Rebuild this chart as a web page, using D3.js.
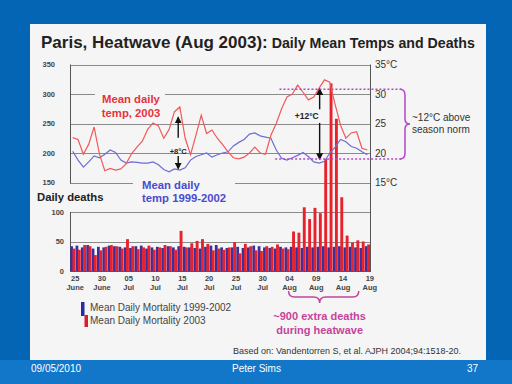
<!DOCTYPE html>
<html><head><meta charset="utf-8">
<script src="https://cdn.jsdelivr.net/npm/d3@7"></script>
<style>
body{margin:0;background:#0565b5;}
svg{display:block;font-family:"Liberation Sans",Arial,sans-serif;}
</style>
</head><body>
<svg id="c" width="512" height="384"></svg>
<script>
// ---------- data ----------
const tickIndex  = [0,5,10,15,20,25,30,35,40,45,50,55];
const tickDays   = ["25","30","05","10","15","20","25","30","04","09","14","19"];
const tickMonths = ["June","June","Jul","Jul","Jul","Jul","Jul","Jul","Aug","Aug","Aug","Aug"];
const dayCount = 56; // 25 June .. 19 Aug

const deaths9902 = [42,43,40,44,38,41,40,43,42,41, 40,39,42,43,38,40,41,39,42,40,
                    42,41,40,39,38,41,43,44,40,39, 40,41,39,40,43,42,40,39,38,41,
                    40,41,40,39,41,40,41,42,40,41, 42,40,41,40,39,42];
const deaths2003 = [38,36,44,42,27,35,41,44,42,38, 54,42,37,40,43,36,40,44,42,36,
                    68,40,47,51,54,46,35,38,36,40, 49,30,46,42,35,34,42,41,45,38,
                    37,67,65,108,88,107,98,190,318,258, 125,60,48,52,50,45];
const temp2003   = [22.6,22.3,19.8,21.5,24.4,19.8,17.0,17.4,17.1,17.3,
                    18.2,19.9,21.0,22.0,24.0,25.1,24.6,22.5,24.0,27.0,
                    27.8,22.5,19.7,23.0,26.4,23.3,23.9,22.5,21.4,20.2,
                    19.2,19.0,19.3,20.0,21.0,20.0,19.8,23.0,25.0,27.5,
                    29.5,30.0,31.5,30.3,29.0,29.5,31.0,32.4,32.0,28.2,
                    24.7,22.5,23.4,23.6,20.8,20.5];
const temp9902   = [20.3,18.8,17.6,18.5,19.5,19.2,19.8,20.5,20.1,18.8,
                    18.3,18.5,18.4,18.3,18.3,18.5,18.0,17.2,16.8,17.3,
                    17.1,17.5,18.8,19.4,19.7,20.0,19.3,19.7,20.0,20.2,
                    21.2,21.8,22.3,23.2,23.4,22.9,22.7,22.5,20.5,19.1,
                    18.8,19.2,19.6,20.1,19.4,18.5,18.3,18.6,20.0,21.0,
                    22.3,21.9,21.1,20.8,20.2,19.7];
const upperDeathTicks = [150,200,250,300,350];
const lowerDeathTicks = [0,50,100];
const tempTicks = [15,20,25,30,35];
const heatPeak = 30.8, seasonNorm = 19.0;

// ---------- setup ----------
const svg = d3.select("#c");
svg.append("rect").attr("x",0).attr("y",0).attr("width",512).attr("height",384).attr("fill","#0565b5");
svg.append("rect").attr("x",0).attr("y",360).attr("width",512).attr("height",24).attr("fill","#1277c9");
svg.append("rect").attr("x",30).attr("y",24).attr("width",456).attr("height",336).attr("fill","#f5f5f5");

const x = d3.scaleBand().domain(d3.range(dayCount)).range([70,370]).padding(0);
const bw = x.bandwidth();
const xl = d3.scaleLinear().domain([0,dayCount-1]).range([x(0)+bw/2, x(dayCount-1)+bw/2]);
const y = d3.scaleLinear().domain([0,350]).range([271,64.5]);
const yT = d3.scaleLinear().domain([0,35]).range([271,64.5]);

// title
const title = svg.append("text").attr("x",41).attr("y",48).attr("fill","#222").attr("font-weight","bold");
title.append("tspan").attr("font-size",17).text("Paris, Heatwave (Aug 2003):");
title.append("tspan").attr("font-size",14.2).text(" Daily Mean Temps and Deaths");

// gridlines
const grid = svg.append("g").attr("stroke","#8a8a8a").attr("stroke-width",1);
[...upperDeathTicks, 100, 50].forEach(v=>{
  grid.append("line").attr("x1",70).attr("x2",370).attr("y1",Math.round(y(v))+0.5).attr("y2",Math.round(y(v))+0.5);
});

// axis lines
const ax = svg.append("g").attr("stroke","#555").attr("stroke-width",1);
ax.append("line").attr("x1",70.5).attr("x2",70.5).attr("y1",y(350)).attr("y2",y(150)+1);
ax.append("line").attr("x1",70.5).attr("x2",70.5).attr("y1",y(100)).attr("y2",y(0));
ax.append("line").attr("x1",370.5).attr("x2",370.5).attr("y1",y(350)).attr("y2",y(0));
ax.append("line").attr("x1",70).attr("x2",371).attr("y1",y(0)+0.5).attr("y2",y(0)+0.5);

// bars
const bars = svg.append("g");
bars.selectAll("rect.b").data(deaths9902).join("rect")
  .attr("x",(d,i)=>x(i)+0.2).attr("width",bw*0.52)
  .attr("y",d=>y(d)).attr("height",d=>y(0)-y(d)).attr("fill","#3a2f9c");
bars.selectAll("rect.r").data(deaths2003).join("rect").attr("class","r")
  .attr("x",(d,i)=>x(i)+bw*0.46).attr("width",bw*0.54)
  .attr("y",d=>y(d)).attr("height",d=>y(0)-y(d)).attr("fill","#e8222c");

// text backgrounds breaking gridlines
svg.append("rect").attr("x",95).attr("y",88).attr("width",70).attr("height",30).attr("fill","#f5f5f5");
svg.append("rect").attr("x",133).attr("y",176).attr("width",102).attr("height",28).attr("fill","#f5f5f5");
svg.append("rect").attr("x",32).attr("y",186).attr("width",110).attr("height",24).attr("fill","#f5f5f5");

// temperature lines
const line = d3.line().x((d,i)=>xl(i)).y(d=>yT(d));
svg.append("path").datum(temp9902).attr("d",line).attr("fill","none").attr("stroke","#6e6ed2").attr("stroke-width",1.2);
svg.append("path").datum(temp2003).attr("d",line).attr("fill","none").attr("stroke","#f05a5a").attr("stroke-width",1.2);

// left axis labels
const gl1 = svg.append("g").attr("transform","translate(70,0)")
  .call(d3.axisLeft(y).tickValues(upperDeathTicks).tickSize(0).tickPadding(15));
const gl2 = svg.append("g").attr("transform","translate(70,0)")
  .call(d3.axisLeft(y).tickValues(lowerDeathTicks).tickSize(0).tickPadding(6));
const gr = svg.append("g").attr("transform","translate(370,0)")
  .call(d3.axisRight(yT).tickValues(tempTicks).tickSize(0).tickPadding(5)
     .tickFormat(d=> (d===35||d===15) ? d+"°C" : d));
[gl1,gl2].forEach(g=>{g.select(".domain").remove();
  g.selectAll("text").attr("font-size",7.5).attr("font-weight","bold").attr("fill","#444").attr("font-family","Liberation Sans, Arial");});
gr.select(".domain").remove();
gr.selectAll("text").attr("font-size",10).attr("fill","#333").attr("font-family","Liberation Sans, Arial");

// bottom axis (two-line labels)
const gb = svg.append("g").attr("transform",`translate(0,${y(0)})`)
  .call(d3.axisBottom(x).tickValues(tickIndex).tickSize(0).tickPadding(4).tickFormat(()=>""));
gb.select(".domain").remove();
gb.selectAll(".tick text").each(function(d){
  const k = tickIndex.indexOf(d);
  const t = d3.select(this).attr("font-size",7.5).attr("font-weight","bold").attr("fill","#444")
    .attr("font-family","Liberation Sans, Arial").attr("x",2.5).attr("dy",null).attr("y",10);
  t.append("tspan").attr("x",2.5).text(tickDays[k]);
  t.append("tspan").attr("x",2.5).attr("dy",8.5).text(tickMonths[k]);
});

// series labels
svg.append("text").attr("x",131).attr("y",103).attr("text-anchor","middle").attr("font-size",11.3)
  .attr("font-weight","bold").attr("fill","#e8323c")
  .selectAll("tspan").data(["Mean daily","temp, 2003"]).join("tspan")
  .attr("x",131).attr("dy",(d,i)=>i?14:0).text(d=>d);
svg.append("text").attr("x",142).attr("y",189).attr("font-size",11.3)
  .attr("font-weight","bold").attr("fill","#4b4bd0")
  .selectAll("tspan").data(["Mean daily","temp 1999-2002"]).join("tspan")
  .attr("x",142).attr("dy",(d,i)=>i?13:0).text(d=>d);
svg.append("text").attr("x",37).attr("y",201).attr("font-size",11.3).attr("font-weight","bold")
  .attr("fill","#222").text("Daily deaths");

// arrows
const defs = svg.append("defs");
defs.append("marker").attr("id","ah").attr("viewBox","0 0 10 10").attr("refX",8).attr("refY",5)
  .attr("markerWidth",5).attr("markerHeight",5).attr("orient","auto")
  .append("path").attr("d","M0,0L10,5L0,10z").attr("fill","#111");
function arrow(i,t1,t2){
  svg.append("line").attr("x1",xl(i)).attr("x2",xl(i)).attr("y1",yT(t1)).attr("y2",yT(t2))
    .attr("stroke","#111").attr("stroke-width",1.4).attr("marker-end","url(#ah)");
}
arrow(19.7,22.6,26.0); arrow(19.7,19.5,17.4);
svg.append("text").attr("x",xl(19.7)).attr("y",yT(19.9)).attr("text-anchor","middle")
  .attr("font-size",7.5).attr("font-weight","bold").attr("fill","#222").text("+8°C");
arrow(46.1,27.4,30.8); arrow(46.1,25.1,19.0);
svg.append("text").attr("x",xl(43.7)).attr("y",yT(25.7)).attr("text-anchor","middle")
  .attr("font-size",8.5).attr("font-weight","bold").attr("fill","#222").text("+12°C");

// dotted heat lines
const mag = "#b545c8";
svg.append("line").attr("x1",xl(38.6)).attr("x2",402).attr("y1",yT(heatPeak)).attr("y2",yT(heatPeak))
  .attr("stroke",mag).attr("stroke-width",1.5).attr("stroke-dasharray","2,2");
svg.append("line").attr("x1",xl(37.8)).attr("x2",402).attr("y1",yT(seasonNorm)).attr("y2",yT(seasonNorm))
  .attr("stroke",mag).attr("stroke-width",1.5).attr("stroke-dasharray","2,2");
const bt = yT(heatPeak), bb = yT(seasonNorm), bm = (bt+bb)/2;
svg.append("path").attr("d",`M400,${bt} Q405,${bt} 405,${bt+6} L405,${bm-5} Q405,${bm} 410,${bm} Q405,${bm} 405,${bm+5} L405,${bb-6} Q405,${bb} 400,${bb}`)
  .attr("fill","none").attr("stroke",mag).attr("stroke-width",1.5);
svg.append("text").attr("font-size",10).attr("fill","#333")
  .selectAll("tspan").data(["~12°C above","season norm"]).join("tspan")
  .attr("x",412).attr("y",(d,i)=>121+i*12).text(d=>d);

// bottom brace
const pink = "#c4449c";
const b1 = xl(40.3), b2 = xl(53.4), bc = xl(46.1);
svg.append("path").attr("d",`M${b1},291 Q${b1},297 ${b1+6},297 L${bc-6},297 Q${bc},297 ${bc},303 Q${bc},297 ${bc+6},297 L${b2-6},297 Q${b2},297 ${b2},291`)
  .attr("fill","none").attr("stroke",pink).attr("stroke-width",1.5);
svg.append("text").attr("text-anchor","middle").attr("font-size",11).attr("font-weight","bold").attr("fill",pink)
  .selectAll("tspan").data(["~900 extra deaths","during heatwave"]).join("tspan")
  .attr("x",bc).attr("y",(d,i)=>320+i*14).text(d=>d);

// legend
svg.append("rect").attr("x",81).attr("y",302).attr("width",3.5).attr("height",14).attr("fill","#2a2aa8");
svg.append("rect").attr("x",84.5).attr("y",315).attr("width",3.5).attr("height",12).attr("fill","#d8202a");
svg.append("text").attr("font-size",10).attr("fill","#444")
  .selectAll("tspan").data(["Mean Daily Mortality 1999-2002","Mean Daily Mortality 2003"]).join("tspan")
  .attr("x",90).attr("y",(d,i)=>311+i*12.5).text(d=>d);

// source
svg.append("text").attr("x",233).attr("y",354).attr("font-size",9).attr("fill","#333")
  .text("Based on:  Vandentorren S, et al. AJPH 2004;94:1518-20.");

// footer
const ft = svg.append("g").attr("font-size",10).attr("fill","#fff");
ft.append("text").attr("x",31).attr("y",372).text("09/05/2010");
ft.append("text").attr("x",232).attr("y",372).text("Peter Sims");
ft.append("text").attr("x",467).attr("y",372).text("37");
</script>
</body></html>
